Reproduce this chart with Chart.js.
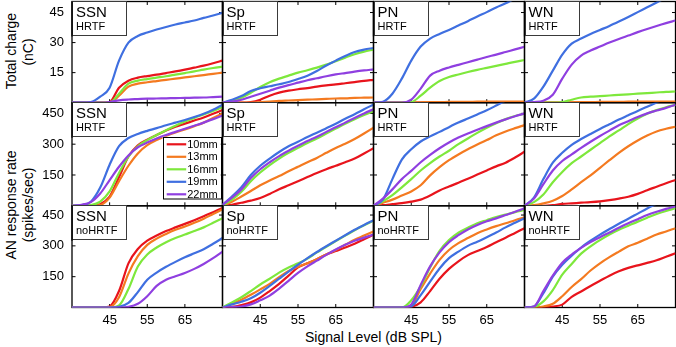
<!DOCTYPE html>
<html><head><meta charset="utf-8">
<script src="https://cdn.jsdelivr.net/npm/chart.js@4.4.1/dist/chart.umd.min.js"></script>
<style>
html,body{margin:0;padding:0;background:#fff;}
#wrap{position:relative;width:676px;height:347px;overflow:hidden;font-family:"Liberation Sans",Arial,Helvetica,sans-serif;color:#000;}
#wrap canvas{position:absolute;left:0;top:0;}
.yt{position:absolute;transform:translate(-50%,-50%) rotate(-90deg);white-space:nowrap;font-size:14px;line-height:1;}
.xt{position:absolute;transform:translate(-50%,-50%);white-space:nowrap;font-size:14px;line-height:1;}
</style></head><body>
<div id="wrap">
  <div class="yt" style="left:11px;top:51px;">Total charge</div>
  <div class="yt" style="left:27.5px;top:52px;">(nC)</div>
  <div class="yt" style="left:11px;top:205px;">AN response rate</div>
  <div class="yt" style="left:27.5px;top:205px;">(spikes/sec)</div>
  <div class="xt" style="left:373.5px;top:336.5px;">Signal Level (dB SPL)</div>
</div>
<script>
// ---------------- data ----------------
const levels = [35,37.5,40,42.5,45,47.5,50,52.5,55,57.5,60,62.5,65,67.5,70,72.5,75];
const seriesNames = ['10mm','13mm','16mm','19mm','22mm'];
const stimuli = ['SSN','Sp','PN','WN'];
const conditions = ['HRTF','HRTF','noHRTF'];
const xTickValues = [45,55,65];
const chargeTickValues = [15,30,45];
const rateTickValues = [150,300,450];

// Row 1: total charge (nC), HRTF   [10mm,13mm,16mm,19mm,22mm]
const charge_SSN = [
 [0,0,0,0,0.3,7.5,11,12.5,13.3,14,14.8,15.6,16.5,17.5,18.5,19.7,21],
 [0,0,0,0,0,3.5,8,9.5,10.2,10.8,11.4,12,12.6,13.2,13.8,14.4,15],
 [0,0,0,0,0,4.5,9.5,11,11.8,12.5,13.2,14,14.8,15.6,16.5,17.3,18],
 [0,0,0.3,3,7.5,21,30,33.3,35,36.5,37.8,39,40,41,42.3,43.5,44.8],
 [0,0,0,0,0.3,1.2,1.6,1.8,2,2.1,2.2,2.3,2.4,2.5,2.6,2.8,3]
];
const charge_Sp = [
 [0,0,0,0.3,1.5,3.5,5,6,6.7,7.3,8,8.6,9.1,9.7,10.3,10.9,11.4],
 [0,0,0,0,0.3,0.6,0.9,1.1,1.3,1.5,1.7,1.9,2.1,2.2,2.4,2.5,2.6],
 [0,1,2.5,5,7.8,10.2,12,13.5,15,16.2,17.5,19,20.7,22.5,24.2,25.5,26.5],
 [0,1.5,3.3,5.8,7.2,8.2,9.2,10.3,11.8,13.5,15.8,18.6,21,23.3,25.3,26.5,27.3],
 [0,0.5,1.5,3,4.5,6,7.5,8.8,10,11.2,12.2,13.2,14.1,14.8,15.5,16.1,16.6]
];
const charge_PN = [
 [0,0,0,0,0,0,0,0,0,0,0,0,0,0.1,0.1,0.2,0.2],
 [0,0,0,0,0.1,0.2,0.3,0.3,0.4,0.4,0.4,0.5,0.5,0.5,0.5,0.6,0.6],
 [0,0,0,0,0.3,3.5,7.5,10.8,12.8,14.1,15.3,16.4,17.4,18.4,19.4,20.4,21.3],
 [0,0.5,4.5,12,21,28,32,34.3,36.3,38.5,40.7,43,45.2,47.5,49.6,52,54],
 [0,0,0,0,1.5,7,13.5,16,17.6,18.9,20.2,21.5,22.8,24,25.3,26.6,27.9]
];
const charge_WN = [
 [0,0,0,0,0,0,0,0,0,0,0,0,0,0.1,0.1,0.2,0.2],
 [0,0,0,0,0.1,0.2,0.3,0.3,0.4,0.4,0.4,0.5,0.5,0.5,0.5,0.6,0.6],
 [0,0,0,0,0.3,1.5,2.6,3,3.3,3.6,3.9,4.2,4.5,4.8,5.1,5.4,5.6],
 [0,2,8,16,24,29.5,32,34.3,36.3,38.3,40.5,42.8,45.2,47.6,50,52.5,55],
 [0,0.3,1,4,12,19,23.5,26,28,30,31.8,33.5,35.2,36.8,38.3,39.7,41]
];

// Row 2: AN response rate (spikes/sec), HRTF
const rate_SSN_HRTF = [
 [0,0,0,8,45,140,240,295,322,345,367,385,400,415,430,448,466],
 [0,0,0,4,40,120,195,255,295,320,340,357,372,388,405,428,450],
 [0,0,3,20,70,160,240,290,320,345,368,390,410,428,445,462,480],
 [0,3,20,89,200,290,330,350,365,378,392,405,418,432,448,468,492],
 [0,5,18,60,125,190,245,285,308,328,345,360,375,390,405,422,440]
];
const rate_Sp_HRTF = [
 [0,5,15,25,38,58,80,100,120,140,160,178,195,212,230,255,280],
 [2,20,45,72,100,123,145,168,190,212,233,258,282,302,325,352,380],
 [3,30,68,120,162,198,230,258,282,306,328,352,376,400,422,442,460],
 [5,45,90,150,195,230,262,290,312,335,356,378,400,424,446,470,493],
 [5,40,80,135,178,212,242,268,292,315,336,360,382,405,428,450,470]
];
const rate_PN_HRTF = [
 [0,3,8,13,20,30,50,75,94,112,132,152,172,192,210,235,263],
 [0,15,30,50,70,100,148,188,222,250,275,298,320,343,362,378,393],
 [0,22,52,90,130,172,208,240,268,300,328,355,380,402,422,437,448],
 [0,30,130,225,275,313,338,360,383,405,425,445,465,488,512,535,558],
 [0,35,80,130,170,212,248,280,308,332,352,370,388,405,421,436,450]
];
const rate_WN_HRTF = [
 [0,0,0,3,9,12,15,18,22,28,35,44,58,76,93,110,126],
 [0,3,12,25,48,80,115,148,185,222,258,290,318,342,362,375,385],
 [0,18,55,115,165,208,240,273,305,338,367,398,425,448,466,480,491],
 [0,40,130,210,258,297,325,350,374,397,420,441,462,482,503,525,545],
 [0,35,105,172,218,250,282,312,340,366,392,412,432,450,464,477,492]
];

// Row 3: AN response rate (spikes/sec), noHRTF
const rate_SSN_noHRTF = [
 [0,0,0,0,5,80,215,285,325,350,372,390,407,425,444,464,484],
 [0,0,0,0,2,50,165,250,305,335,358,378,394,412,432,455,478],
 [0,0,0,0,0,10,90,200,258,292,318,338,355,372,390,412,435],
 [0,0,0,0,0,3,22,75,135,170,198,222,244,264,284,310,338],
 [0,0,0,0,0,0,3,18,55,105,135,152,168,188,212,240,272]
];
const rate_Sp_noHRTF = [
 [0,3,12,25,48,80,115,155,195,215,235,258,275,292,310,332,355],
 [0,18,38,62,88,115,148,178,198,215,235,258,280,305,330,350,370],
 [0,25,50,80,112,140,170,195,215,238,268,296,323,350,376,400,423],
 [0,15,28,45,72,105,140,175,208,240,270,298,325,352,378,402,425],
 [0,2,5,15,35,58,92,130,168,200,228,256,282,305,325,340,355]
];
const rate_PN_noHRTF = [
 [0,0,0,0,3,25,80,140,188,225,255,275,295,318,340,363,386],
 [0,0,0,0,10,90,165,232,280,313,338,362,380,396,410,425,439],
 [0,0,0,0,35,103,195,276,328,364,388,410,425,440,452,464,475],
 [0,0,0,0,5,60,126,190,240,272,300,320,342,365,390,412,434],
 [0,0,0,0,15,110,200,268,318,352,380,402,420,434,450,466,483]
];
const rate_WN_noHRTF = [
 [0,0,2,5,14,52,78,105,130,155,176,193,205,217,230,247,264],
 [0,0,5,18,55,100,138,180,215,245,272,298,315,335,355,370,386],
 [0,3,30,85,160,212,262,298,328,355,378,398,418,437,455,470,483],
 [0,5,70,150,208,252,292,325,355,382,408,432,457,482,505,528,550],
 [0,5,80,155,218,258,290,318,342,365,388,410,430,450,466,480,492]
];

// ---------------- styling / layout ----------------
const seriesColors = ['#e8141c','#f47a20','#7ee83c','#3f6fe0','#8f3fe0'];
const FONT = '"Liberation Sans", Arial, Helvetica, sans-serif';
Chart.defaults.font.family = FONT;
const colEdges = [72, 222.5, 373.5, 524.5, 675.5];
const rowEdges = [1.5, 102.7, 205.8, 307.5];
const rowYMax = [50.5, 502, 495];
const rowTicks = [chargeTickValues, rateTickValues, rateTickValues];
const panelData = [
  [charge_SSN, charge_Sp, charge_PN, charge_WN],
  [rate_SSN_HRTF, rate_Sp_HRTF, rate_PN_HRTF, rate_WN_HRTF],
  [rate_SSN_noHRTF, rate_Sp_noHRTF, rate_PN_noHRTF, rate_WN_noHRTF]
];
const Y_AXIS_W = 40, X_AXIS_H = 30;

const panelPlugin = {
  id: 'panel',
  beforeDatasetsDraw(chart, args, opts) {
    const ctx = chart.ctx, a = chart.chartArea;
    const xs = chart.scales.x, ys = chart.scales.y;
    ctx.save();
    // frame
    ctx.strokeStyle = '#000'; ctx.lineWidth = 1.3;
    ctx.strokeRect(a.left, a.top, a.right - a.left, a.bottom - a.top);
    // inward ticks
    const tl = 3.5;
    ctx.lineWidth = 1;
    ctx.beginPath();
    opts.xt.forEach(v => {
      const px = xs.getPixelForValue(v);
      ctx.moveTo(px, a.bottom); ctx.lineTo(px, a.bottom - tl);
      ctx.moveTo(px, a.top); ctx.lineTo(px, a.top + tl);
    });
    opts.yt.forEach(v => {
      const py = ys.getPixelForValue(v);
      ctx.moveTo(a.left, py); ctx.lineTo(a.left + tl, py);
      ctx.moveTo(a.right, py); ctx.lineTo(a.right - tl, py);
    });
    ctx.stroke();
    ctx.restore();
  },
  afterDatasetsDraw(chart, args, opts) {
    const ctx = chart.ctx, a = chart.chartArea;
    ctx.save();
    // label box
    const bx = Math.round(a.left) + 0.5, by = Math.round(a.top) - 0.5;
    ctx.fillStyle = '#fff';
    ctx.fillRect(bx, by, 54, 34);
    ctx.strokeStyle = '#3a3a3a'; ctx.lineWidth = 1;
    ctx.strokeRect(bx, by, 54, 34);
    ctx.fillStyle = '#000';
    ctx.textAlign = 'left'; ctx.textBaseline = 'alphabetic';
    ctx.font = '15px ' + FONT;
    ctx.fillText(opts.name, a.left + 4, a.top + 15.5);
    ctx.font = '11px ' + FONT;
    ctx.fillText(opts.cond, a.left + 4, a.top + 28);
    // legend
    if (opts.legend) {
      const lw = 58, lh = 61.5;
      const lx = a.right - 1.8 - lw, ly = a.bottom - 7.5 - lh;
      ctx.fillStyle = '#fff';
      ctx.fillRect(lx, ly, lw, lh);
      ctx.strokeStyle = '#000'; ctx.lineWidth = 1;
      ctx.strokeRect(Math.round(lx) + 0.5, Math.round(ly) + 0.5, lw, lh);
      ctx.font = '11px ' + FONT; ctx.textBaseline = 'middle';
      chart.data.datasets.forEach((d, i) => {
        const yy = ly + 7.5 + 12.5 * i;
        ctx.strokeStyle = d.borderColor; ctx.lineWidth = 2.2;
        ctx.beginPath(); ctx.moveTo(lx + 4, yy); ctx.lineTo(lx + 23.5, yy); ctx.stroke();
        ctx.fillStyle = '#000';
        ctx.fillText(d.label, lx + 24.5, yy + 0.5);
      });
    }
    // left edge line over the label box border
    ctx.strokeStyle = '#000'; ctx.lineWidth = 1.3;
    ctx.beginPath(); ctx.moveTo(a.left, a.top); ctx.lineTo(a.left, a.top + 35); ctx.stroke();
    ctx.restore();
  }
};

const wrap = document.getElementById('wrap');
for (let r = 0; r < 3; r++) {
  for (let c = 0; c < 4; c++) {
    const cv = document.createElement('canvas');
    cv.width = 676; cv.height = 347;
    cv.style.width = '676px'; cv.style.height = '347px';
    wrap.appendChild(cv);
    const L = colEdges[c], R = colEdges[c + 1], T = rowEdges[r], B = rowEdges[r + 1];
    const values = panelData[r][c];
    const yt = rowTicks[r];
    new Chart(cv, {
      type: 'line',
      data: {
        datasets: values.map((vals, i) => ({
          label: seriesNames[i],
          data: levels.map((lv, k) => ({ x: lv, y: vals[k] })),
          borderColor: seriesColors[i],
          backgroundColor: seriesColors[i],
          borderWidth: 2.2,
          pointRadius: 0,
          fill: false,
          cubicInterpolationMode: 'monotone',
          order: 4 - i
        }))
      },
      options: {
        responsive: false,
        animation: false,
        devicePixelRatio: 1,
        events: [],
        layout: { padding: { left: L - Y_AXIS_W, right: 676 - R, top: T, bottom: 347 - B - X_AXIS_H } },
        plugins: {
          legend: { display: false },
          title: { display: false },
          tooltip: { enabled: false },
          panel: { name: stimuli[c], cond: conditions[r], legend: (r === 1 && c === 0), xt: xTickValues, yt: yt }
        },
        scales: {
          x: {
            type: 'linear', min: 35, max: 75,
            grid: { display: false, drawTicks: false },
            border: { display: false },
            ticks: { display: r === 2, color: '#000', font: { size: 13 }, padding: 5, maxRotation: 0, autoSkip: false },
            afterBuildTicks: s => { s.ticks = xTickValues.map(v => ({ value: v })); },
            afterFit: s => { s.height = X_AXIS_H; s.paddingLeft = 0; s.paddingRight = 0; s.paddingTop = 0; s.paddingBottom = 0; }
          },
          y: {
            type: 'linear', min: 0, max: rowYMax[r],
            grid: { display: false, drawTicks: false },
            border: { display: false },
            ticks: { display: c === 0, color: '#000', font: { size: 13 }, padding: 8, autoSkip: false },
            afterBuildTicks: s => { s.ticks = yt.map(v => ({ value: v })); },
            afterFit: s => { s.width = Y_AXIS_W; s.paddingTop = 0; s.paddingBottom = 0; s.paddingLeft = 0; s.paddingRight = 0; }
          }
        }
      },
      plugins: [panelPlugin]
    });
  }
}
</script>
</body></html>
